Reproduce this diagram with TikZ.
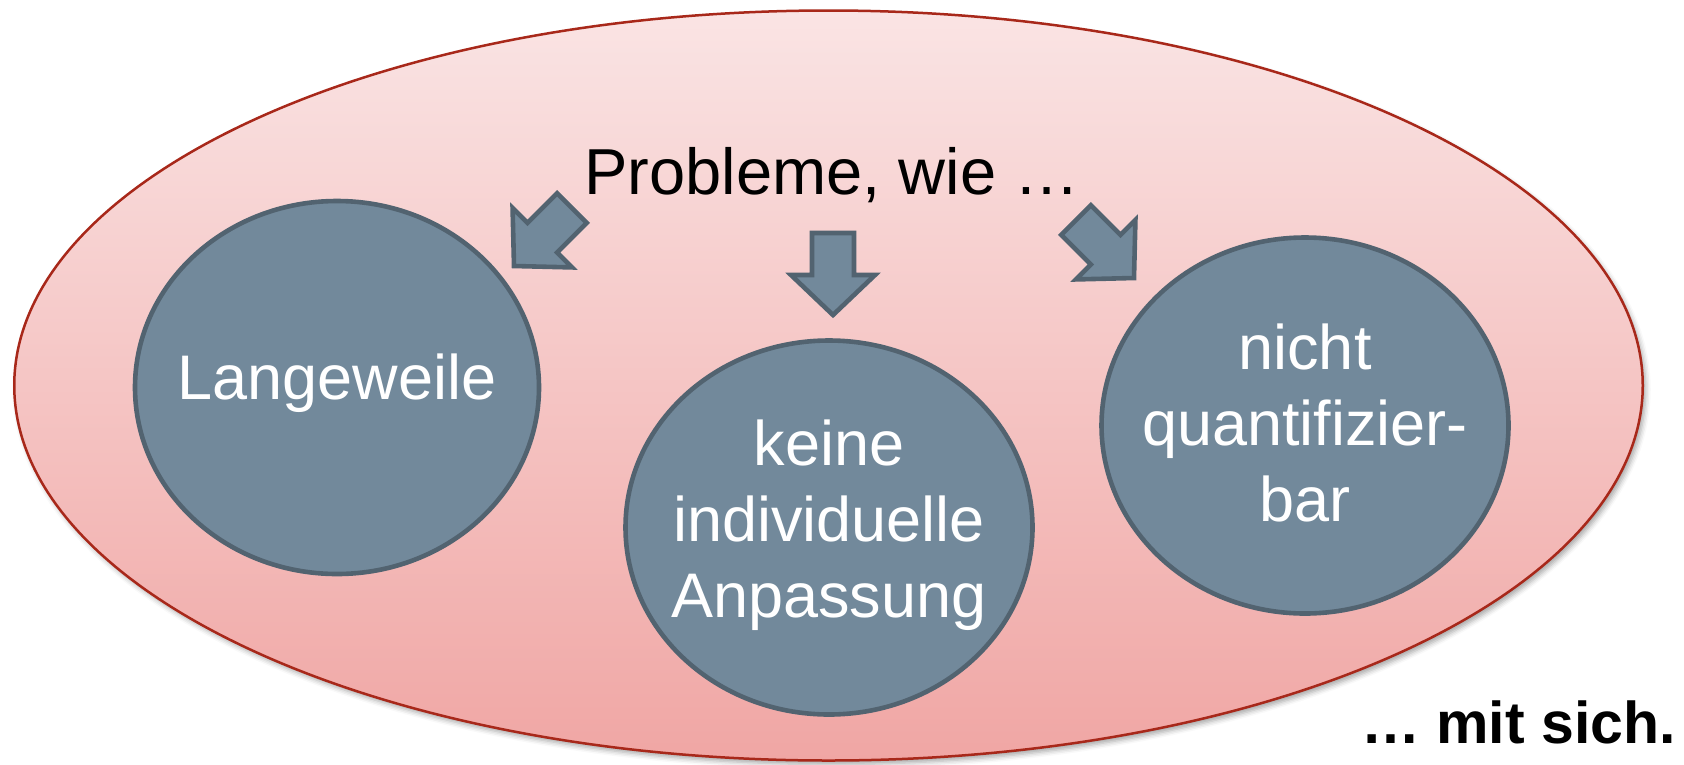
\documentclass[tikz,border=0pt]{standalone}
\usepackage{fontspec}
\setmainfont{Liberation Sans}
\usetikzlibrary{shapes.geometric,shadows.blur}
\definecolor{bubble}{HTML}{72899B}
\definecolor{bubbleedge}{HTML}{526370}
\definecolor{rimred}{HTML}{A8281A}
\definecolor{pinktop}{HTML}{FAE4E4}
\definecolor{pinkbot}{HTML}{F0A6A4}
\begin{document}
\begin{tikzpicture}[x=1pt,y=-1pt,
  bubblestyle/.style={ellipse, draw=bubbleedge, fill=bubble, line width=4.6pt, inner sep=0pt},
  bubbletext/.style={text=white, align=center, font=\fontsize{63}{76}\selectfont, inner sep=0pt},
  blockarrow/.style={draw=bubbleedge, fill=bubble, line width=4.6pt, line join=miter},
  bigtext/.style={font=\fontsize{65}{76}\selectfont, inner sep=0pt}]
\useasboundingbox (0,0) rectangle (1684,764);
% big ellipse
\path[draw=rimred, line width=2.5pt, top color=pinktop, bottom color=pinkbot,
  blur shadow={shadow xshift=3pt, shadow yshift=-4pt, shadow blur radius=5pt, shadow opacity=35}]
  (828.5,385.5) ellipse [x radius=814.25, y radius=375];
% bubbles
\node[bubblestyle, minimum width=404pt, minimum height=373pt] (lang) at (337,387.5) {};
\node[bubblestyle, minimum width=407pt, minimum height=374pt] (indiv) at (829,527.5) {};
\node[bubblestyle, minimum width=407pt, minimum height=376pt] (quant) at (1305,425.5) {};
\node[bubbletext] (langt) at (337,383.6) {Langeweile};
\node[bubbletext] (indivt) at (829,525.5) {keine\\individuelle\\Anpassung};
\node[bubbletext] (quantt) at (1305,422.5) {nicht\\quantifizier-\\bar};
% title and footer
\node[bigtext, anchor=base] (title) at (832,194) {Probleme, wie …};
\node[anchor=base east, inner sep=0pt, font=\bfseries\fontsize{59}{62}\selectfont] (mit) at (1676,743) {… mit sich.};
% block arrows
\draw[blockarrow] (514,266) -- (571.98,267.42) -- (557.13,252.57) -- (586.83,222.87)
  -- (557.13,193.17) -- (527.43,222.87) -- (512.58,208.02) -- cycle;
\draw[blockarrow] (833,315) -- (875,275) -- (854,275) -- (854,233) -- (812,233)
  -- (812,275) -- (791,275) -- cycle;
\draw[blockarrow] (1134,278) -- (1135.42,220.02) -- (1120.57,234.87) -- (1090.87,205.17)
  -- (1061.17,234.87) -- (1090.87,264.57) -- (1076.02,279.42) -- cycle;
\end{tikzpicture}
\end{document}
